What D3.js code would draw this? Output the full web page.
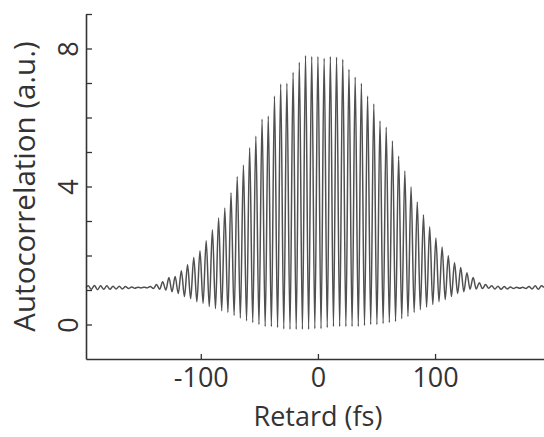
<!DOCTYPE html>
<html>
<head>
<meta charset="utf-8">
<script src="https://cdn.jsdelivr.net/npm/d3@7"></script>
<style>
  html, body { margin: 0; padding: 0; background: #fff; }
  svg { display: block; }
  text { font-family: "Open Sans", "DejaVu Sans", sans-serif; fill: #333; }
</style>
</head>
<body>
<svg id="chart" width="544" height="437"></svg>
<script>
// ---- data ----
const xTicks = [-100, 0, 100];
const yTicks = [0, 1, 2, 3, 4, 5, 6, 7, 8, 9];
const yTickLabels = [0, 4, 8];
const xDomain = [-198, 193];
const yDomain = [-1, 9];
const baseline = 1.07;
const fringeStart = -196.1;   // fs, delay of first fringe maximum
const fringePeriod = 5.3;     // fs, spacing of fringe maxima as drawn
// fringe maxima (a.u.), one per fringe
const peaks = [
  1.12, 1.13, 1.12, 1.12, 1.11, 1.11, 1.10, 1.09, 1.08, 1.08, 1.10, 1.16,
  1.24, 1.36, 1.39, 1.56, 1.73, 1.94, 2.14, 2.43, 2.75, 3.09, 3.38, 3.82,
  4.28, 4.62, 5.12, 5.46, 5.95, 6.04, 6.62, 6.97, 6.99, 7.31, 7.60, 7.80,
  7.77, 7.77, 7.72, 7.77, 7.75, 7.69, 7.40, 7.17, 6.99, 6.62, 6.39, 5.90,
  5.72, 5.32, 4.88, 4.45, 3.99, 3.55, 3.18, 2.83, 2.51, 2.25, 1.99, 1.79,
  1.65, 1.50, 1.36, 1.21, 1.16, 1.12, 1.11, 1.10, 1.09, 1.08, 1.08, 1.10,
  1.12, 1.12
];
// fringe minima (a.u.), one between each pair of maxima
const troughs = [
  1.02, 1.01, 1.02, 1.02, 1.03, 1.03, 1.04, 1.05, 1.06, 1.06, 1.04, 1.02,
  1.00, 0.95, 0.90, 0.81, 0.75, 0.66, 0.61, 0.52, 0.46, 0.40, 0.35, 0.26,
  0.19, 0.11, 0.06, 0.00, -0.06, -0.06, -0.09, -0.13, -0.14, -0.14, -0.14, -0.14,
  -0.12, -0.12, -0.09, -0.06, -0.06, -0.06, -0.06, -0.06, -0.03, 0.00, 0.00, 0.03,
  0.06, 0.09, 0.17, 0.23, 0.35, 0.43, 0.50, 0.58, 0.66, 0.72, 0.81, 0.90,
  0.95, 1.02, 1.03, 1.04, 1.05, 1.03, 1.02, 1.03, 1.04, 1.05, 1.04, 1.03,
  1.02
];

// ---- build trace from the read extrema ----
const trace = [{t: xDomain[0], v: baseline}];
peaks.forEach((p, k) => {
  trace.push({t: fringeStart + k * fringePeriod, v: p});
  if (k < troughs.length) trace.push({t: fringeStart + (k + 0.5) * fringePeriod, v: troughs[k]});
});
trace.push({t: xDomain[1], v: baseline});

const svg = d3.select("#chart");
const x = d3.scaleLinear().domain(xDomain).range([86, 544]);
const y = d3.scaleLinear().domain(yDomain).range([359, 14]);

// trace
svg.append("path")
  .datum(trace)
  .attr("fill", "none")
  .attr("stroke", "#505050")
  .attr("stroke-width", 1.5)
  .attr("d", d3.line().x(d => x(d.t)).y(d => y(d.v)).curve(d3.curveMonotoneX));

// x axis
const xAxis = svg.append("g").attr("transform", `translate(0,${y.range()[0]})`)
  .call(d3.axisBottom(x).tickValues(xTicks).tickSizeInner(-5).tickSizeOuter(0)
    .tickFormat(d => String(d)));
xAxis.select(".domain").attr("stroke", "#333").attr("stroke-width", 1.6);
xAxis.selectAll(".tick line").attr("stroke", "#333").attr("stroke-width", 1.3);
xAxis.selectAll(".tick text").attr("font-size", 27).attr("fill", "#333")
  .attr("font-family", "Open Sans").attr("dy", "0.71em").attr("y", 9);

// y axis
const yAxis = svg.append("g").attr("transform", `translate(${x.range()[0]},0)`)
  .call(d3.axisLeft(y).tickValues(yTicks).tickSizeInner(-6).tickSizeOuter(0)
    .tickFormat(d => yTickLabels.includes(d) ? d : ""));
yAxis.select(".domain").attr("stroke", "#333").attr("stroke-width", 1.6);
yAxis.selectAll(".tick line").attr("stroke", "#333").attr("stroke-width", 1.3);
yAxis.selectAll(".tick text").attr("font-size", 27).attr("fill", "#333")
  .attr("font-family", "Open Sans")
  .attr("x", null).attr("dy", null)
  .attr("text-anchor", "middle")
  .attr("transform", "translate(-8,0) rotate(-90)")
  .attr("dy", "0em");

// axis titles
svg.append("text")
  .attr("x", x(0)).attr("y", 426)
  .attr("text-anchor", "middle").attr("font-size", 27)
  .text("Retard (fs)");
svg.append("text")
  .attr("transform", `translate(35,${y(4)}) rotate(-90)`)
  .attr("text-anchor", "middle").attr("font-size", 29.5)
  .text("Autocorrelation (a.u.)");
</script>
</body>
</html>
